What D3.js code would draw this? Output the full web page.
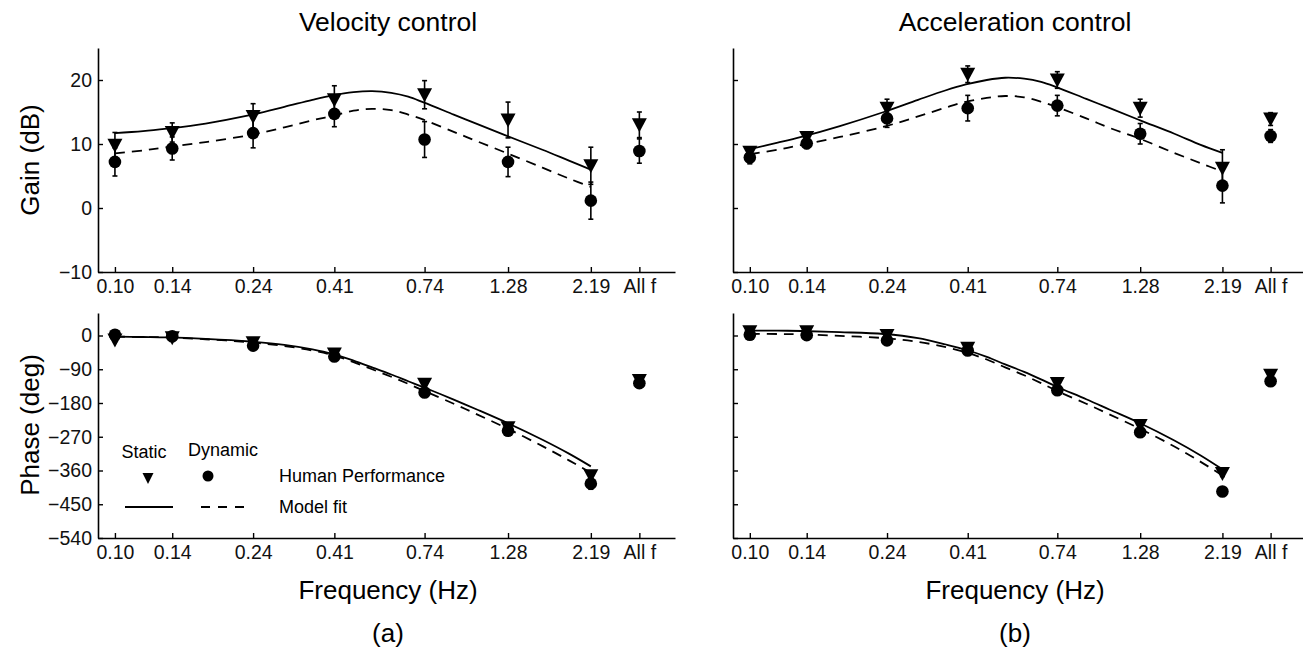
<!DOCTYPE html>
<html><head><meta charset="utf-8">
<script src="https://cdn.jsdelivr.net/npm/d3@7"></script>
<style>
html,body{margin:0;padding:0;background:#fff;}
svg{display:block;font-family:"Liberation Sans",Arial,Helvetica,sans-serif;}
</style></head>
<body>
<svg id="chart" width="1303" height="652"></svg>
<script>
// ---------- data ----------
const freqs = [0.10, 0.145, 0.245, 0.415, 0.745, 1.28, 2.19];
const tickLabels = ["0.10", "0.14", "0.24", "0.41", "0.74", "1.28", "2.19", "All f"];
const allFPos = 3.0; // axis position of the pooled "All f" column
const panelTitles = ["Velocity control", "Acceleration control"];
const panelLetters = ["(a)", "(b)"];
const gainTicks = [-10, 0, 10, 20];
const phaseTicks = [-540, -450, -360, -270, -180, -90, 0];

// measured points (7 frequencies + All f)
const velGainStatic = [9.8, 11.8, 14.3, 16.9, 17.7, 13.75, 6.6, 13.0];
const velGainStaticErr = [2.0, 1.5, 2.0, 2.2, 2.2, 2.8, 2.9, 2.0];
const velGainDynamic = [7.2, 9.3, 11.7, 14.7, 10.7, 7.2, 1.15, 8.9];
const velGainDynamicErr = [2.2, 1.8, 2.3, 2.0, 2.8, 2.3, 2.9, 1.9];
const velPhaseStatic = [-12, -6, -19, -49, -130, -246, -374, -120];
const velPhaseStaticErr = [4, 4, 4, 5, 5, 6, 8, 4];
const velPhaseDynamic = [2, -2, -27, -56, -152, -254, -395, -127];
const velPhaseDynamicErr = [4, 4, 5, 5, 6, 7, 15, 5];

const accGainStatic = [8.7, 11.0, 15.6, 20.9, 20.0, 15.6, 6.2, 13.9];
const accGainStaticErr = [0.8, 0.7, 1.4, 1.3, 1.3, 1.4, 2.9, 1.0];
const accGainDynamic = [7.9, 10.1, 14.0, 15.6, 16.0, 11.6, 3.5, 11.25];
const accGainDynamicErr = [1.0, 0.8, 1.4, 2.0, 1.6, 1.6, 2.7, 1.0];
const accPhaseStatic = [10, 10, 0, -34, -128, -240, -368, -106];
const accPhaseStaticErr = [4, 4, 4, 6, 5, 6, 8, 4];
const accPhaseDynamic = [2, 1, -13, -40, -146, -258, -416, -122];
const accPhaseDynamicErr = [4, 4, 5, 6, 6, 7, 12, 5];

// model fits
const fitFreqs = [0.10, 0.12, 0.14, 0.18, 0.24, 0.30, 0.36, 0.41, 0.47, 0.53, 0.60, 0.67, 0.74, 0.90, 1.05, 1.28, 1.60, 1.90, 2.19];
const velGainFitStatic = [11.7, 12.0, 12.4, 13.2, 14.5, 15.8, 16.9, 17.6, 18.1, 18.25, 18.0, 17.4, 16.5, 14.6, 13.1, 11.2, 9.1, 7.4, 6.0];
const velGainFitDynamic = [8.55, 9.0, 9.5, 10.3, 11.4, 12.6, 13.7, 14.4, 15.2, 15.5, 15.3, 14.6, 13.8, 11.9, 10.4, 8.5, 6.3, 4.6, 3.3];
const velPhaseFitStatic = [-3, -4, -5, -9, -16, -25, -37, -49, -67, -85, -104, -122, -138, -171, -198, -234, -278, -315, -349];
const velPhaseFitDynamic = [-3, -4, -5, -10, -18, -28, -40, -52, -71, -90, -110, -129, -147, -182, -211, -249, -295, -333, -366];
const accGainFitStatic = [9.2, 10.2, 11.1, 12.8, 15.0, 16.9, 18.4, 19.3, 20.0, 20.35, 20.2, 19.7, 18.9, 17.05, 15.6, 13.7, 11.6, 9.85, 8.6];
const accGainFitDynamic = [8.4, 9.1, 9.85, 11.1, 12.7, 14.3, 15.7, 16.6, 17.2, 17.5, 17.3, 16.6, 15.8, 14.0, 12.5, 10.8, 8.6, 7.0, 5.7];
const accPhaseFitStatic = [13, 13, 12, 9, 4, -7, -24, -38, -57, -77, -97, -117, -136, -170, -198, -234, -280, -320, -357];
const accPhaseFitDynamic = [4, 4, 3, -1, -7, -17, -31, -45, -64, -85, -106, -127, -147, -182, -211, -249, -296, -337, -373];

// ---------- layout ----------
const svg = d3.select("#chart");
const FONT = '"Liberation Sans",Arial,Helvetica,sans-serif';
const xDomain = [0.0896, 3.78];
const panelsX = [[98, 675], [733, 1306]];
const gainRange = [272, 48], phaseRange = [538, 313];

const triPath = "M-7.5,-6.5L7.5,-6.5L0,7.5Z";

function drawPanel(col, row, cfg) {
  const x = d3.scaleLog().domain(xDomain).range(panelsX[col]);
  const y = d3.scaleLinear().domain(row === 0 ? [-10, 25] : [-540, 60]).range(row === 0 ? gainRange : phaseRange);
  const g = svg.append("g");
  const x0 = panelsX[col][0];
  const yb = y.range()[0];

  // x axis
  const xAxis = d3.axisBottom(x)
    .tickValues(freqs.concat([allFPos]))
    .tickFormat((d, i) => tickLabels[i])
    .tickSizeInner(-5).tickSizeOuter(0).tickPadding(7);
  const ga = g.append("g").attr("transform", `translate(0,${yb})`).call(xAxis);
  ga.select(".domain").attr("stroke-width", 1.6);
  ga.selectAll(".tick line").attr("stroke-width", 1.4);
  ga.selectAll("text").attr("font-size", 19.5).attr("font-family", FONT).attr("fill", "#111");

  // y axis
  const yAxis = d3.axisLeft(y)
    .tickValues(row === 0 ? gainTicks : phaseTicks)
    .tickFormat(col === 0 ? (d => d < 0 ? "\u2212" + Math.abs(d) : d) : "")
    .tickSizeInner(-5).tickSizeOuter(0).tickPadding(6);
  const gy = g.append("g").attr("transform", `translate(${x0},0)`).call(yAxis);
  gy.select(".domain").attr("stroke-width", 1.6);
  gy.selectAll(".tick line").attr("stroke-width", 1.4);
  gy.selectAll("text").attr("font-size", 19.5).attr("font-family", FONT).attr("fill", "#111");

  // model fit lines
  const line = d3.line().x((d, i) => x(fitFreqs[i])).y(d => y(d)).curve(d3.curveCatmullRom.alpha(0.5));
  g.append("path").attr("d", line(cfg.fitS)).attr("fill", "none").attr("stroke", "#000").attr("stroke-width", 1.8);
  g.append("path").attr("d", line(cfg.fitD)).attr("fill", "none").attr("stroke", "#000").attr("stroke-width", 1.8)
    .attr("stroke-dasharray", "10,7");

  const xs = freqs.concat([allFPos]);
  // error bars
  function errBars(vals, errs) {
    const eg = g.append("g").attr("stroke", "#000").attr("stroke-width", 1.6);
    vals.forEach((v, i) => {
      const cx = x(xs[i]);
      eg.append("line").attr("x1", cx).attr("x2", cx).attr("y1", y(v - errs[i])).attr("y2", y(v + errs[i]));
      [v - errs[i], v + errs[i]].forEach(t => {
        eg.append("line").attr("x1", cx - 2.5).attr("x2", cx + 2.5).attr("y1", y(t)).attr("y2", y(t));
      });
    });
  }
  errBars(cfg.dyn, cfg.dynErr);
  errBars(cfg.stat, cfg.statErr);
  // markers
  g.append("g").selectAll("circle").data(cfg.dyn).join("circle")
    .attr("cx", (d, i) => x(xs[i])).attr("cy", d => y(d)).attr("r", 6.3).attr("fill", "#000");
  g.append("g").selectAll("path").data(cfg.stat).join("path")
    .attr("d", triPath).attr("transform", (d, i) => `translate(${x(xs[i])},${y(d)})`).attr("fill", "#000");
}

drawPanel(0, 0, {stat: velGainStatic, statErr: velGainStaticErr, dyn: velGainDynamic, dynErr: velGainDynamicErr, fitS: velGainFitStatic, fitD: velGainFitDynamic});
drawPanel(0, 1, {stat: velPhaseStatic, statErr: velPhaseStaticErr, dyn: velPhaseDynamic, dynErr: velPhaseDynamicErr, fitS: velPhaseFitStatic, fitD: velPhaseFitDynamic});
drawPanel(1, 0, {stat: accGainStatic, statErr: accGainStaticErr, dyn: accGainDynamic, dynErr: accGainDynamicErr, fitS: accGainFitStatic, fitD: accGainFitDynamic});
drawPanel(1, 1, {stat: accPhaseStatic, statErr: accPhaseStaticErr, dyn: accPhaseDynamic, dynErr: accPhaseDynamicErr, fitS: accPhaseFitStatic, fitD: accPhaseFitDynamic});

// titles and labels
const centers = [388, 1015];
[0, 1].forEach(c => {
  const cx = centers[c];
  svg.append("text").attr("x", cx).attr("y", 31).attr("text-anchor", "middle")
    .attr("font-size", 26.5).attr("font-family", FONT).text(panelTitles[c]);
  svg.append("text").attr("x", cx).attr("y", 599).attr("text-anchor", "middle")
    .attr("font-size", 26).attr("font-family", FONT).text("Frequency (Hz)");
  svg.append("text").attr("x", cx).attr("y", 642).attr("text-anchor", "middle")
    .attr("font-size", 26).attr("font-family", FONT).text(panelLetters[c]);
});
svg.append("text").attr("transform", "translate(39,160) rotate(-90)").attr("text-anchor", "middle")
  .attr("font-size", 26).attr("font-family", FONT).text("Gain (dB)");
svg.append("text").attr("transform", "translate(39,425) rotate(-90)").attr("text-anchor", "middle")
  .attr("font-size", 26).attr("font-family", FONT).text("Phase (deg)");

// legend
const lg = svg.append("g").attr("font-family", FONT).attr("font-size", 18);
lg.append("text").attr("x", 144).attr("y", 458).attr("text-anchor", "middle").text("Static");
lg.append("text").attr("x", 223).attr("y", 456).attr("text-anchor", "middle").text("Dynamic");
lg.append("path").attr("d", "M-5.5,-5L5.5,-5L0,6Z").attr("transform", "translate(148,478)").attr("fill", "#000");
lg.append("circle").attr("cx", 208).attr("cy", 476).attr("r", 5.5).attr("fill", "#000");
lg.append("text").attr("x", 279).attr("y", 482).text("Human Performance");
lg.append("line").attr("x1", 125).attr("x2", 173).attr("y1", 507).attr("y2", 507).attr("stroke", "#000").attr("stroke-width", 1.8);
lg.append("line").attr("x1", 201).attr("x2", 250).attr("y1", 507).attr("y2", 507).attr("stroke", "#000").attr("stroke-width", 1.8).attr("stroke-dasharray", "9,8");
lg.append("text").attr("x", 279).attr("y", 513).text("Model fit");
</script>
</body></html>
